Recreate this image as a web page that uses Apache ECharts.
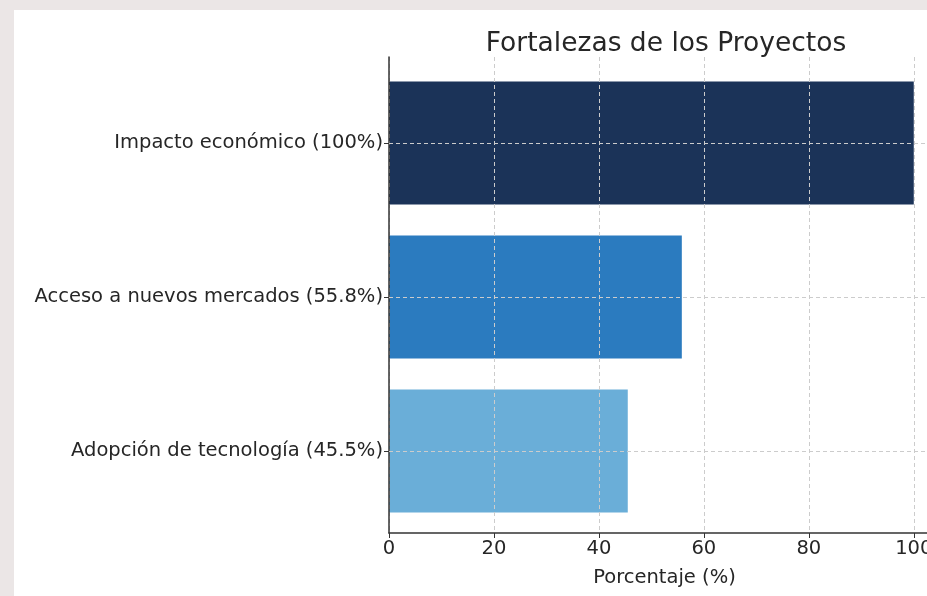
<!DOCTYPE html>
<html>
<head>
<meta charset="utf-8">
<script src="https://cdn.jsdelivr.net/npm/echarts@6/dist/echarts.min.js"></script>
<style>
  html, body { margin: 0; padding: 0; width: 927px; height: 596px; overflow: hidden; background: #ebe6e6; }
  #chart { position: absolute; left: 14px; top: 10px; width: 940px; height: 586px; background: #ffffff; }
</style>
</head>
<body>
<div id="chart"></div>
<script>
// datos
const categories = ["Impacto económico (100%)", "Acceso a nuevos mercados (55.8%)", "Adopción de tecnología (45.5%)"];
const values = [100, 55.8, 45.5];
const barColors = ["#1b3358", "#2b7bbf", "#6aaed8"];
const xTicks = [0, 20, 40, 60, 80, 100];

const chart = echarts.init(document.getElementById("chart"));
const font = "DejaVu Sans";
const gridLine = { color: "#cccccc", type: [4, 3], width: 1 };

const option = {
  animation: false,
  title: {
    text: "Fortalezas de los Proyectos",
    left: 647,
    top: 16,
    textAlign: "center",
    textStyle: { fontFamily: font, fontSize: 26.5, fontWeight: "normal", color: "#262626" }
  },
  // grid 0: las barras; grid 1: el marco (ejes y rejilla)
  grid: [
    { left: 375, top: 56, width: 551, height: 462, containLabel: false },
    { left: 375, top: 47, width: 551, height: 476, containLabel: false }
  ],
  xAxis: [
    { gridIndex: 0, type: "value", min: 0, max: 105, show: false },
    {
      gridIndex: 1,
      type: "value",
      min: 0,
      max: 105,
      interval: 20,
      z: 3,
      name: "Porcentaje (%)",
      nameLocation: "middle",
      nameGap: 35,
      nameTextStyle: { fontFamily: font, fontSize: 19.5, color: "#262626" },
      axisLine: { show: true, lineStyle: { color: "#333", width: 1.5 } },
      axisTick: { show: true, length: 5, lineStyle: { color: "#333" } },
      axisLabel: {
        fontFamily: font, fontSize: 19.5, color: "#262626", margin: 6,
        formatter: v => (xTicks.includes(v) ? String(v) : "")
      },
      splitLine: { show: true, lineStyle: gridLine }
    }
  ],
  yAxis: [
    {
      gridIndex: 0,
      type: "category",
      inverse: true,
      data: categories,
      axisLine: { show: false },
      axisTick: { show: true, alignWithLabel: true, length: 5, lineStyle: { color: "#333" } },
      axisLabel: { fontFamily: font, fontSize: 19.5, color: "#262626", margin: 6 },
      splitLine: { show: false }
    },
    {
      gridIndex: 1,
      type: "value",
      min: 0,
      max: 1,
      z: 4,
      axisLine: { show: true, lineStyle: { color: "#333", width: 1.5 } },
      axisTick: { show: false },
      axisLabel: { show: false },
      splitLine: { show: false }
    }
  ],
  series: [{
    type: "bar",
    xAxisIndex: 0,
    yAxisIndex: 0,
    barWidth: 123,
    data: values.map((v, i) => ({ value: v, itemStyle: { color: barColors[i] } })),
    markLine: {
      silent: true,
      symbol: "none",
      label: { show: false },
      lineStyle: gridLine,
      data: categories.map(c => ({ yAxis: c }))
    }
  }]
};

chart.setOption(option);
</script>
</body>
</html>
